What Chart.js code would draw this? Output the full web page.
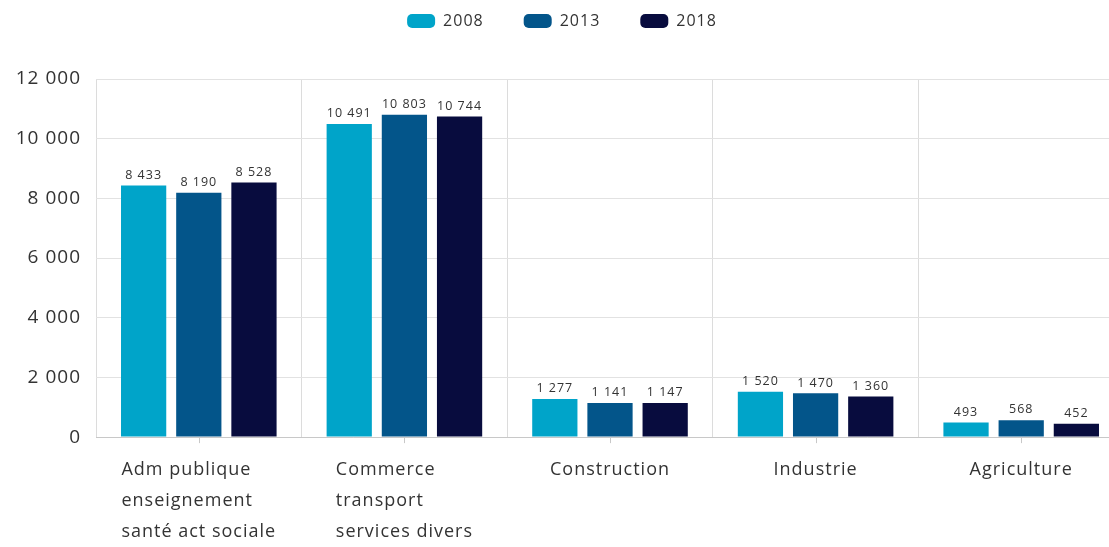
<!DOCTYPE html>
<html>
<head>
<meta charset="utf-8">
<script src="https://cdn.jsdelivr.net/npm/chart.js"></script>
<style>
  body { margin: 0; overflow: hidden; background: #fff; }
  #wrap { width: 1124px; height: 547px; position: relative; }
</style>
</head>
<body>
<div id="wrap"><canvas id="myChart"></canvas></div>
<script>
var categories = [
    ['Adm publique', 'enseignement', 'santé act sociale'],
    ['Commerce', 'transport', 'services divers'],
    ['Construction'],
    ['Industrie'],
    ['Agriculture']
];
var years = ['2008', '2013', '2018'];
var values2008 = [8433, 10491, 1277, 1520, 493];
var values2013 = [8190, 10803, 1141, 1470, 568];
var values2018 = [8528, 10744, 1147, 1360, 452];
var yTicks = [0, 2000, 4000, 6000, 8000, 10000, 12000];

var fontName = '"Open Sans", sans-serif';
var textColor = '#333';

function fmt(v) {
    return String(v).replace(/\B(?=(\d{3})+(?!\d))/g, ' ');
}

// labels above bars, custom x labels and center tick marks
const extras = {
    id: 'extras',
    beforeUpdate(chart) { chart.ctx.letterSpacing = '1px'; },
    beforeDraw(chart) { chart.ctx.letterSpacing = '1px'; },
    afterLayout(chart) {
        // pull legend up to the top edge
        chart.legend.top = -27;
    },
    afterDatasetsDraw(chart) {
        const ctx = chart.ctx;
        ctx.save();
        ctx.font = '12.5px ' + fontName;
        ctx.fillStyle = textColor;
        ctx.textAlign = 'center';
        ctx.textBaseline = 'bottom';
        chart.data.datasets.forEach((ds, di) => {
            chart.getDatasetMeta(di).data.forEach((el, i) => {
                ctx.fillText(fmt(ds.data[i]), el.x, el.y - 4);
            });
        });
        ctx.restore();
    },
    afterDraw(chart) {
        const ctx = chart.ctx;
        const xs = chart.scales.x;
        ctx.save();
        ctx.strokeStyle = '#c8c8c8';
        ctx.lineWidth = 1;
        ctx.font = '18px ' + fontName;
        ctx.fillStyle = textColor;
        ctx.textAlign = 'left';
        ctx.textBaseline = 'middle';
        categories.forEach((lines, i) => {
            const x = xs.getPixelForTick(i);
            ctx.beginPath();
            ctx.moveTo(Math.round(x) + 0.5, xs.top);
            ctx.lineTo(Math.round(x) + 0.5, xs.top + 6);
            ctx.stroke();
            let w = 0;
            lines.forEach(l => { w = Math.max(w, ctx.measureText(l).width); });
            lines.forEach((l, k) => {
                ctx.fillText(l, x - w / 2, xs.top + 33 + k * 31);
            });
        });
        ctx.restore();
    }
};

const data = {
    labels: categories,
    datasets: [{
        label: years[0],
        backgroundColor: '#00a4c9',
        data: values2008
    }, {
        label: years[1],
        backgroundColor: '#03558a',
        data: values2013
    }, {
        label: years[2],
        backgroundColor: '#080c3e',
        data: values2018
    }]
};

const config = {
    type: 'bar',
    data: data,
    options: {
        responsive: true,
        maintainAspectRatio: false,
        animation: false,
        categoryPercentage: 0.805,
        barPercentage: 0.82,
        layout: { padding: { left: 0, right: 0, top: 13, bottom: 17 } },
        plugins: {
            legend: {
                position: 'top',
                labels: {
                    font: { family: fontName, size: 16 },
                    color: textColor,
                    boxWidth: 28,
                    boxHeight: 14,
                    useBorderRadius: true,
                    borderRadius: 5,
                    padding: 40
                }
            },
            tooltip: { enabled: false }
        },
        scales: {
            x: {
                grid: { offset: true, color: '#dcdcdc', drawTicks: false },
                border: { color: '#c8c8c8' },
                ticks: {
                    color: 'rgba(0,0,0,0)',
                    font: { family: fontName, size: 18, lineHeight: 1.72 },
                    padding: 0,
                    maxRotation: 0,
                    autoSkip: false
                }
            },
            y: {
                min: 0,
                max: 12000,
                afterBuildTicks: axis => { axis.ticks = yTicks.map(v => ({ value: v })); },
                afterFit: axis => { axis.width = 96; },
                grid: { color: '#e2e2e2', drawTicks: false },
                border: { display: false },
                ticks: {
                    color: textColor,
                    font: { family: fontName, size: 19 },
                    padding: 15,
                    callback: v => fmt(v)
                }
            }
        }
    },
    plugins: [extras]
};

const myChart = new Chart(document.getElementById('myChart'), config);
</script>
</body>
</html>
